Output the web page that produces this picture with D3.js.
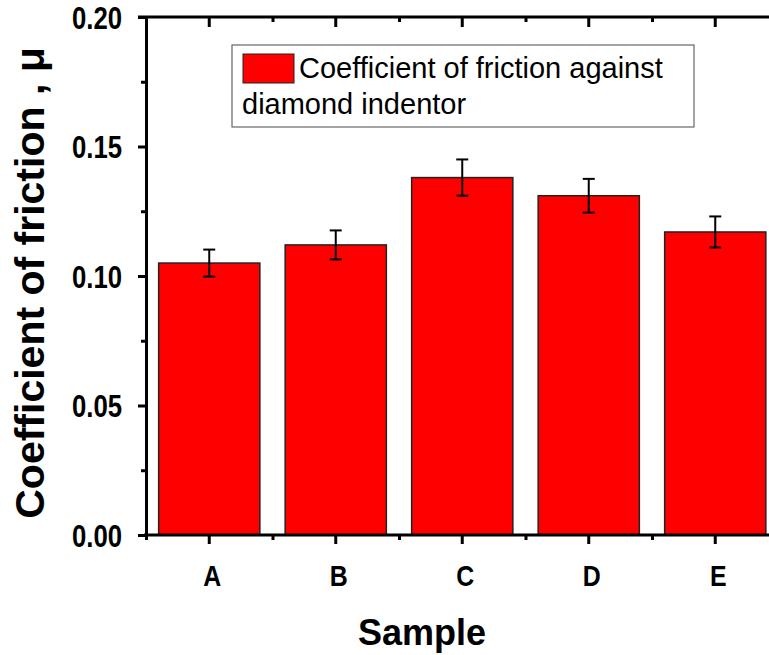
<!DOCTYPE html>
<html>
<head>
<meta charset="utf-8">
<script src="https://cdn.jsdelivr.net/npm/d3@7"></script>
<style>
  html, body { margin: 0; padding: 0; background: #fff; }
  svg { display: block; overflow: hidden; }
  text { font-family: "Liberation Sans", Arial, sans-serif; }
</style>
</head>
<body>
<svg id="chart" width="769" height="655"></svg>
<script>
// Friction coefficient per sample, with error bar half-widths
const samples = ["A", "B", "C", "D", "E"];
const friction = [0.105, 0.112, 0.138, 0.131, 0.117];
const frictionErr = [0.0052, 0.0056, 0.007, 0.0065, 0.006];
const yMajorTicks = [0.00, 0.05, 0.10, 0.15, 0.20];
const yMinorTicks = [0.025, 0.075, 0.125, 0.175];
const legendLines = ["Coefficient of friction against", "diamond indentor"];
const xTitle = "Sample";
const yTitle = "Coefficient of friction , \u03bc";

const svg = d3.select("#chart");
const plot = { left: 146, right: 778.5, top: 17, bottom: 535 };
const condense = 0.83; // horizontal squeeze for the tick label font

const x = d3.scaleBand()
  .domain(samples)
  .range([plot.left, plot.right])
  .paddingInner(0.2)
  .paddingOuter(0.1);

const y = d3.scaleLinear().domain([0, 0.2]).range([plot.bottom, plot.top]);

// Category boundaries for the minor x ticks
const xEdge = d3.scaleLinear().domain([0, samples.length]).range([plot.left, plot.right]);

// Bars
svg.append("g").selectAll("rect")
  .data(samples)
  .join("rect")
  .attr("x", d => x(d))
  .attr("y", (d, i) => y(friction[i]))
  .attr("width", x.bandwidth())
  .attr("height", (d, i) => y(0) - y(friction[i]))
  .attr("fill", "#ff0000")
  .attr("stroke", "#222")
  .attr("stroke-width", 1.5);

// Error bars
const eb = svg.append("g").attr("stroke", "#000").attr("stroke-width", 2);
samples.forEach((s, i) => {
  const cx = x(s) + x.bandwidth() / 2;
  const hi = y(friction[i] + frictionErr[i]);
  const lo = y(friction[i] - frictionErr[i]);
  eb.append("line").attr("x1", cx).attr("x2", cx).attr("y1", hi).attr("y2", lo);
  eb.append("line").attr("x1", cx - 6).attr("x2", cx + 6).attr("y1", hi).attr("y2", hi);
  eb.append("line").attr("x1", cx - 6).attr("x2", cx + 6).attr("y1", lo).attr("y2", lo);
});

function styleAxis(g, width) {
  g.selectAll("path.domain").attr("stroke", "#000").attr("stroke-width", width);
  g.selectAll(".tick line").attr("stroke", "#000").attr("stroke-width", width);
}

// Squeeze tick text horizontally while keeping its anchor point in place
function condenseText(sel) {
  sel.each(function () {
    const t = d3.select(this);
    const x0 = +t.attr("x") || 0;
    t.attr("x", x0 / condense).attr("transform", `scale(${condense},1)`);
  });
}

// Left axis: major ticks with labels
const yAxis = svg.append("g")
  .attr("transform", `translate(${plot.left},0)`)
  .call(d3.axisLeft(y).tickValues(yMajorTicks).tickFormat(d3.format(".2f"))
    .tickSize(8).tickSizeOuter(0).tickPadding(16));
styleAxis(yAxis, 3);
yAxis.selectAll("text")
  .attr("fill", "#000")
  .attr("font-size", 31)
  .attr("font-weight", "bold")
  .attr("dy", "0.36em")
  .call(condenseText);

// Left axis: minor ticks
const yMinor = svg.append("g")
  .attr("transform", `translate(${plot.left},0)`)
  .call(d3.axisLeft(y).tickValues(yMinorTicks).tickFormat("").tickSize(5).tickSizeOuter(0));
styleAxis(yMinor, 3);
yMinor.select("path.domain").remove();

// Bottom axis: category ticks and labels
const xAxis = svg.append("g")
  .attr("transform", `translate(0,${plot.bottom})`)
  .call(d3.axisBottom(x).tickSize(9).tickSizeOuter(0).tickPadding(21));
styleAxis(xAxis, 3);
xAxis.select("path.domain").attr("d", `M${plot.left - 2},0H${plot.right}`);
xAxis.selectAll("text")
  .attr("fill", "#000")
  .attr("font-size", 30)
  .attr("font-weight", "bold")
  .attr("x", 3)
  .call(condenseText);

// Bottom axis: minor ticks at category boundaries
const xMinor = svg.append("g")
  .attr("transform", `translate(0,${plot.bottom})`)
  .call(d3.axisBottom(xEdge).tickValues(d3.range(samples.length + 1)).tickFormat("").tickSize(5).tickSizeOuter(0));
styleAxis(xMinor, 3);
xMinor.select("path.domain").remove();

// Top frame with inward ticks
const xTop = svg.append("g")
  .attr("transform", `translate(0,${plot.top})`)
  .call(d3.axisBottom(x).tickFormat("").tickSize(10).tickSizeOuter(0));
styleAxis(xTop, 3);
xTop.select("path.domain").attr("d", `M${plot.left - 8},0H${plot.right}`);
const xTopMinor = svg.append("g")
  .attr("transform", `translate(0,${plot.top})`)
  .call(d3.axisBottom(xEdge).tickValues(d3.range(1, samples.length)).tickFormat("").tickSize(5).tickSizeOuter(0));
styleAxis(xTopMinor, 3);
xTopMinor.select("path.domain").remove();

// Right frame
const yRight = svg.append("g")
  .attr("transform", `translate(${plot.right},0)`)
  .call(d3.axisLeft(y).tickValues(yMajorTicks).tickFormat("").tickSize(8).tickSizeOuter(0));
styleAxis(yRight, 3);

// Axis titles
svg.append("text")
  .attr("x", 422)
  .attr("y", 645)
  .attr("text-anchor", "middle")
  .attr("font-size", 36)
  .attr("font-weight", "bold")
  .text(xTitle);

svg.append("text")
  .attr("transform", `translate(44,283) rotate(-90)`)
  .attr("text-anchor", "middle")
  .attr("font-size", 41)
  .attr("font-weight", "bold")
  .text(yTitle);

// Legend
const legend = svg.append("g");
legend.append("rect")
  .attr("x", 232).attr("y", 45).attr("width", 462).attr("height", 82)
  .attr("fill", "#fff").attr("stroke", "#666").attr("stroke-width", 1.2);
legend.append("rect")
  .attr("x", 243).attr("y", 54).attr("width", 51).attr("height", 29)
  .attr("fill", "#ff0000").attr("stroke", "#222").attr("stroke-width", 1);
legend.append("text")
  .attr("x", 299).attr("y", 78)
  .attr("font-size", 29)
  .text(legendLines[0]);
legend.append("text")
  .attr("x", 242).attr("y", 114)
  .attr("font-size", 29)
  .text(legendLines[1]);
</script>
</body>
</html>
